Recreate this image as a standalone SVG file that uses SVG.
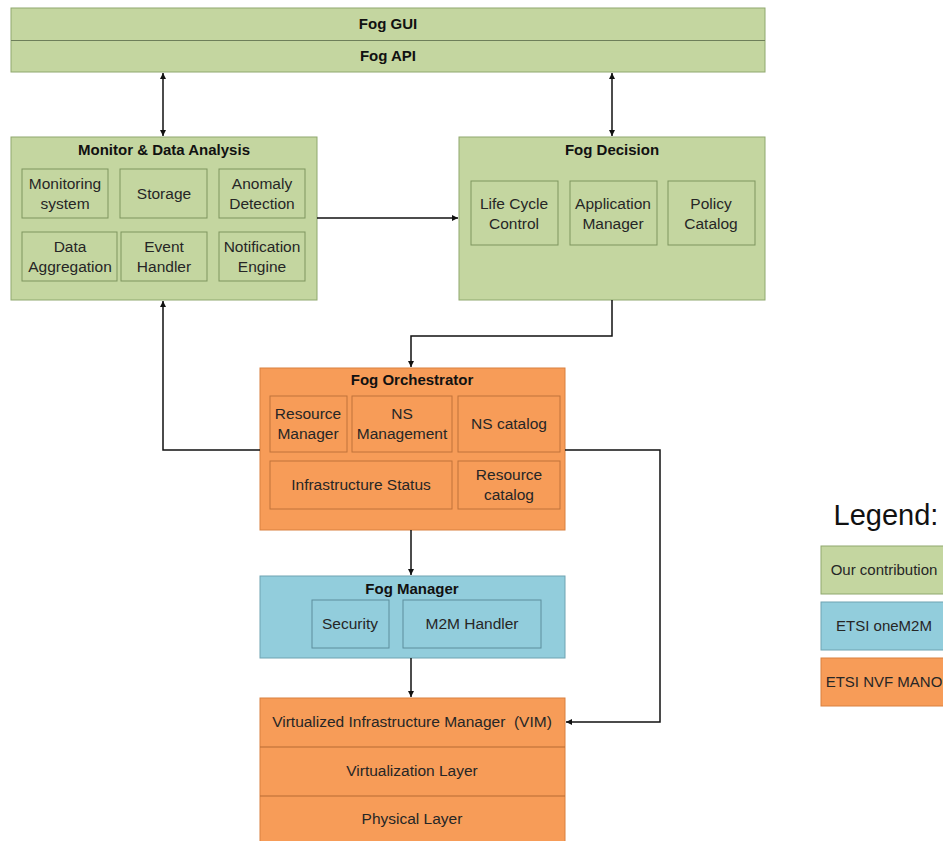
<svg xmlns="http://www.w3.org/2000/svg" width="943" height="841" viewBox="0 0 943 841">
<defs>
<marker id="ah" viewBox="0 0 10 10" refX="10" refY="5" markerWidth="6" markerHeight="6" orient="auto-start-reverse" markerUnits="userSpaceOnUse">
<path d="M0,0 L10,5 L0,10 z" fill="#111"/>
</marker>
<style>
.g{fill:#C4D6A0;stroke:#8FA86E;stroke-width:1}
.gi{fill:#C4D6A0;stroke:#7E955F;stroke-width:1}
.b{fill:#92CDDC;stroke:#6FA3B2;stroke-width:1}
.bi{fill:#92CDDC;stroke:#5D8E9C;stroke-width:1}
.o{fill:#F79C58;stroke:#D9803E;stroke-width:1}
.oi{fill:#F79C58;stroke:#C0733A;stroke-width:1}
text{font-family:"Liberation Sans",Arial,sans-serif;font-size:15.5px;fill:#262626;text-anchor:middle}
.t{font-weight:bold;fill:#111;font-size:15px}
.l{font-size:15px}
.c{fill:none;stroke:#111;stroke-width:1.5}
</style>
</defs>

<g id="fog-gui-api">
<rect class="g" x="11" y="8" width="754" height="64"/>
<line x1="11" y1="40.5" x2="765" y2="40.5" stroke="#6E7F5A" stroke-width="1"/>
<text class="t" x="388" y="29">Fog GUI</text>
<text class="t" x="388" y="61">Fog API</text>
</g>

<g id="monitor">
<rect class="g" x="11" y="137" width="306" height="163"/>
<text class="t" x="164" y="155">Monitor &amp; Data Analysis</text>
<rect class="gi" x="22" y="169" width="86" height="49"/>
<text x="65" y="189">Monitoring</text><text x="65" y="209">system</text>
<rect class="gi" x="120" y="169" width="87" height="49"/>
<text x="164" y="199">Storage</text>
<rect class="gi" x="219" y="169" width="86" height="49"/>
<text x="262" y="189">Anomaly</text><text x="262" y="209">Detection</text>
<rect class="gi" x="22" y="232" width="95" height="49"/>
<text x="70" y="252">Data</text><text x="70" y="272">Aggregation</text>
<rect class="gi" x="121" y="232" width="86" height="49"/>
<text x="164" y="252">Event</text><text x="164" y="272">Handler</text>
<rect class="gi" x="219" y="232" width="86" height="49"/>
<text x="262" y="252">Notification</text><text x="262" y="272">Engine</text>
</g>

<g id="decision">
<rect class="g" x="459" y="137" width="306" height="163"/>
<text class="t" x="612" y="155">Fog Decision</text>
<rect class="gi" x="471" y="181" width="87" height="64"/>
<text x="514" y="209">Life Cycle</text><text x="514" y="229">Control</text>
<rect class="gi" x="570" y="181" width="87" height="64"/>
<text x="613" y="209">Application</text><text x="613" y="229">Manager</text>
<rect class="gi" x="668" y="181" width="87" height="64"/>
<text x="711" y="209">Policy</text><text x="711" y="229">Catalog</text>
</g>

<g id="orchestrator">
<rect class="o" x="260" y="368" width="305" height="162"/>
<text class="t" x="412" y="385">Fog Orchestrator</text>
<rect class="oi" x="270" y="396" width="77" height="56"/>
<text x="308" y="419">Resource</text><text x="308" y="439">Manager</text>
<rect class="oi" x="352" y="396" width="100" height="56"/>
<text x="402" y="419">NS</text><text x="402" y="439">Management</text>
<rect class="oi" x="458" y="396" width="102" height="56"/>
<text x="509" y="429">NS catalog</text>
<rect class="oi" x="270" y="461" width="182" height="48"/>
<text x="361" y="490">Infrastructure Status</text>
<rect class="oi" x="458" y="461" width="102" height="48"/>
<text x="509" y="480">Resource</text><text x="509" y="500">catalog</text>
</g>

<g id="manager">
<rect class="b" x="260" y="576" width="305" height="82"/>
<text class="t" x="412" y="594">Fog Manager</text>
<rect class="bi" x="312" y="600" width="77" height="48"/>
<text x="350" y="629">Security</text>
<rect class="bi" x="403" y="600" width="138" height="48"/>
<text x="472" y="629">M2M Handler</text>
</g>

<g id="infrastructure">
<rect class="o" x="260" y="698" width="305" height="150"/>
<line x1="260" y1="747" x2="565" y2="747" stroke="#B76A33" stroke-width="1"/>
<line x1="260" y1="796" x2="565" y2="796" stroke="#B76A33" stroke-width="1"/>
<text x="412" y="727">Virtualized Infrastructure Manager&#160; (VIM)</text>
<text x="412" y="776">Virtualization Layer</text>
<text x="412" y="824">Physical Layer</text>
</g>

<g id="legend">
<text x="886" y="525" style="font-size:29px;fill:#111">Legend:</text>
<rect class="g" x="821" y="546" width="130" height="48"/>
<text class="l" x="884" y="575">Our contribution</text>
<rect class="b" x="821" y="602" width="130" height="48"/>
<text class="l" x="884" y="631">ETSI oneM2M</text>
<rect class="o" x="821" y="658" width="130" height="48"/>
<text class="l" x="884" y="687">ETSI NVF MANO</text>
</g>

<g id="connectors">
<line class="c" x1="163" y1="73" x2="163" y2="136" marker-start="url(#ah)" marker-end="url(#ah)"/>
<line class="c" x1="612" y1="73" x2="612" y2="136" marker-start="url(#ah)" marker-end="url(#ah)"/>
<line class="c" x1="317" y1="218" x2="458" y2="218" marker-end="url(#ah)"/>
<polyline class="c" points="612,300 612,336 411,336 411,367" marker-end="url(#ah)"/>
<polyline class="c" points="260,450 163,450 163,301" marker-end="url(#ah)"/>
<polyline class="c" points="565,450 660,450 660,722 566,722" marker-end="url(#ah)"/>
<line class="c" x1="411" y1="530" x2="411" y2="575" marker-end="url(#ah)"/>
<line class="c" x1="411" y1="658" x2="411" y2="697" marker-end="url(#ah)"/>
</g>
</svg>
